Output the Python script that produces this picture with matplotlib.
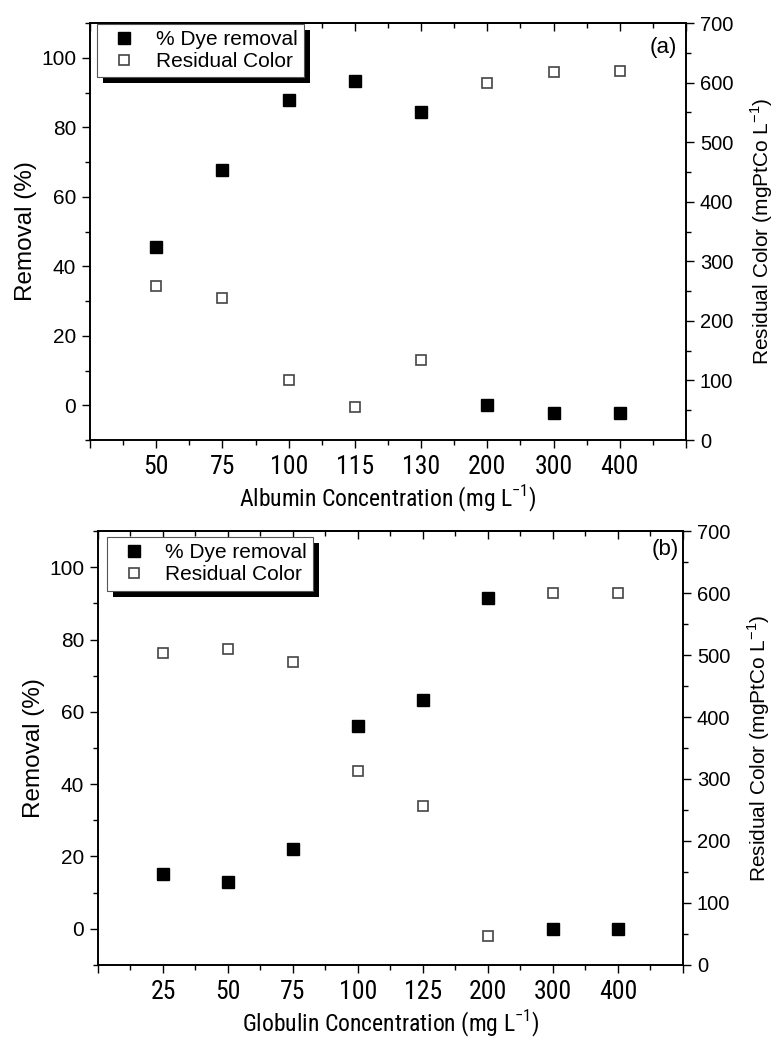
import matplotlib
matplotlib.use("Agg")
import matplotlib.pyplot as plt
import numpy as np
from matplotlib import font_manager
from matplotlib.patches import Rectangle
from matplotlib.ticker import MultipleLocator

# --- dados ------------------------------------------------------------------
albumin_conc = ["50", "75", "100", "115", "130", "200", "300", "400"]
albumin_removal = [45.5, 67.8, 87.8, 93.4, 84.5, 0.0, -2.1, -2.1]
albumin_residual = [258, 239, 101, 55, 134, 600, 617, 619]

globulin_conc = ["25", "50", "75", "100", "125", "200", "300", "400"]
globulin_removal = [15.2, 12.9, 22.0, 56.1, 63.4, 91.6, 0.0, 0.0]
globulin_residual = [503, 510, 489, 313, 257, 47, 600, 600]

# fonte condensada para o eixo x, se existir alguma instalada
_installed = {f.name for f in font_manager.fontManager.ttflist}
_narrow = next((n for n in ["Liberation Sans Narrow", "Arial Narrow",
                            "Roboto Condensed", "Open Sans Condensed"]
                if n in _installed), "Liberation Sans")

SANS = ["Liberation Sans", "DejaVu Sans"]
NARROW = [_narrow, "Liberation Sans", "DejaVu Sans"]
X_TICK_SIZE = 18.5 if _narrow != "Liberation Sans" else 14
X_LABEL_SIZE = 17 if _narrow != "Liberation Sans" else 14.5

plt.rcParams["font.family"] = SANS
plt.rcParams["mathtext.fontset"] = "custom"
plt.rcParams["mathtext.rm"] = "Liberation Sans"


def draw_panel(fig, rect, labels, removal, residual, xlabel, tag, tag_xy, leg_xy):
    ax = fig.add_axes(rect)
    ax2 = ax.twinx()
    x = np.arange(1, len(labels) + 1)

    h1, = ax.plot(x, removal, ls="none", marker="s", ms=8, mfc="black",
                  mec="black", label="% Dye removal", clip_on=False)
    h2, = ax2.plot(x, residual, ls="none", marker="s", ms=7.5, mfc="white",
                   mec="#444444", mew=1.2, label="Residual Color", clip_on=False)

    ax.set_xlim(0, len(labels) + 1)
    ax.set_ylim(-10, 110)
    ax2.set_ylim(0, 700)

    ax.set_xticks(np.arange(0, len(labels) + 2))
    ax.set_xticklabels([""] + labels + [""], family=NARROW, fontsize=X_TICK_SIZE)
    ax.xaxis.set_minor_locator(MultipleLocator(0.5))
    ax.yaxis.set_major_locator(MultipleLocator(20))
    ax.yaxis.set_minor_locator(MultipleLocator(10))
    ax2.yaxis.set_major_locator(MultipleLocator(100))
    ax2.yaxis.set_minor_locator(MultipleLocator(50))

    ax.tick_params(axis="x", which="both", direction="out", top=False, pad=5)
    ax.tick_params(axis="y", which="both", direction="out", right=False,
                   labelsize=15, pad=4)
    ax2.tick_params(axis="y", which="both", direction="out", labelsize=14.5, pad=4)
    for a in (ax, ax2):
        a.tick_params(which="major", length=6, width=1)
        a.tick_params(which="minor", length=3.6, width=1)
        for sp in a.spines.values():
            sp.set_linewidth(1.2)

    # ticks do eixo superior apontam para dentro (estilo Origin)
    top = ax.secondary_xaxis("top")
    top.set_xticks(np.arange(0, len(labels) + 2))
    top.xaxis.set_minor_locator(MultipleLocator(0.5))
    top.tick_params(axis="x", which="both", direction="in", labeltop=False)
    top.tick_params(which="major", length=6, width=1)
    top.tick_params(which="minor", length=3.6, width=1)
    top.spines["top"].set_linewidth(1.2)

    ax.set_xlabel(xlabel, family=NARROW, fontsize=X_LABEL_SIZE, labelpad=3)
    ax.set_ylabel("Removal (%)", fontsize=17.5, labelpad=3)
    ax2.set_ylabel(r"Residual Color (mgPtCo L$^{\mathregular{-1}}$)",
                   fontsize=15, labelpad=11)

    ax.text(tag_xy[0], tag_xy[1], tag, transform=ax.transAxes, ha="right",
            va="center", fontsize=16)

    leg = ax2.legend([h1, h2], ["% Dye removal", "Residual Color"],
                     loc="upper left", bbox_to_anchor=leg_xy, fontsize=15,
                     frameon=True, fancybox=False, framealpha=1,
                     edgecolor="#555555", borderpad=0.3, labelspacing=0.15,
                     handlelength=2.0, handletextpad=0.5, borderaxespad=0)
    leg.get_frame().set_linewidth(0.8)
    leg.set_zorder(6)
    return ax2, leg


fig = plt.figure(figsize=(7.74, 10.42), dpi=100)

panels = [
    draw_panel(fig, [0.1163, 0.5777, 0.7700, 0.4002], albumin_conc,
               albumin_removal, albumin_residual,
               r"Albumin Concentration (mg L$^{\mathregular{-1}}$)", "(a)",
               (0.985, 0.942), (0.012, 0.998)),
    draw_panel(fig, [0.1266, 0.0739, 0.7558, 0.4165], globulin_conc,
               globulin_removal, globulin_residual,
               r"Globulin Concentration (mg L$^{\mathregular{-1}}$)", "(b)",
               (0.993, 0.958), (0.015, 0.986)),
]

# sombra preta deslocada da legenda
fig.canvas.draw()
renderer = fig.canvas.get_renderer()
for ax2, leg in panels:
    bb = leg.get_window_extent(renderer)
    inv = ax2.transAxes.inverted()
    (x0, y0), (x1, y1) = inv.transform([[bb.x0 + 6, bb.y0 - 6], [bb.x1 + 6, bb.y1 - 6]])
    ax2.add_patch(Rectangle((x0, y0), x1 - x0, y1 - y0, transform=ax2.transAxes,
                            facecolor="black", edgecolor="none", zorder=5.5,
                            clip_on=False))

fig.savefig("out.png", dpi=100)
